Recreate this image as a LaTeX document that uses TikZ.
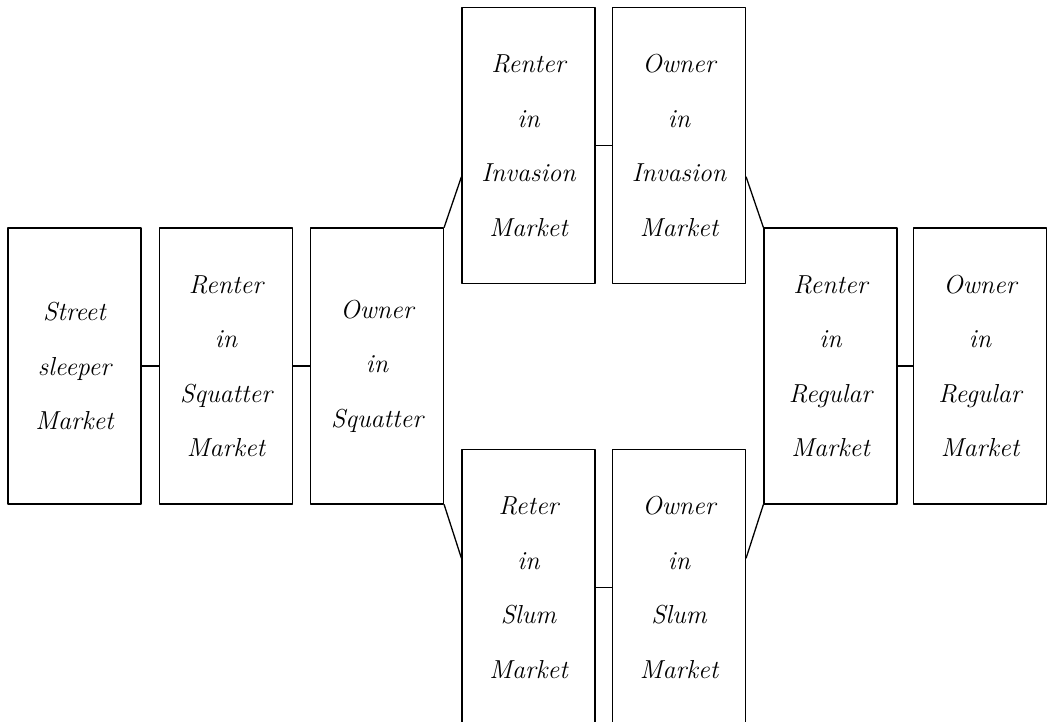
\documentclass[tikz,border=0pt]{standalone}
\usetikzlibrary{positioning}
\begin{document}
\begin{tikzpicture}[x=1pt,y=-1pt,line cap=round,line join=round]
\useasboundingbox (0,0) rectangle (1047,721);
\tikzset{market/.style={draw=black,line width=1.3pt,minimum width=133pt,minimum height=276pt,inner sep=0pt,align=center,font=\fontsize{26}{54.5}\selectfont\itshape},link/.style={draw=black,line width=1.3pt}}
\node[market] (street) at (74.5,366) {Street\\sleeper\\Market};
\node[market] (rsq) at (226,366) {Renter\\in\\Squatter\\Market};
\node[market] (osq) at (377,366) {Owner\\in\\Squatter};
\node[market] (rinv) at (528.5,145.5) {Renter\\in\\Invasion\\Market};
\node[market] (oinv) at (679,145.5) {Owner\\in\\Invasion\\Market};
\node[market] (rslum) at (528.5,587.5) {Reter\\in\\Slum\\Market};
\node[market] (oslum) at (679,587.5) {Owner\\in\\Slum\\Market};
\node[market] (rreg) at (830.5,366) {Renter\\in\\Regular\\Market};
\node[market] (oreg) at (980,366) {Owner\\in\\Regular\\Market};
\draw[link] (street) -- (rsq); \draw[link] (rsq) -- (osq); \draw[link] (rreg) -- (oreg);
\draw[link] (rinv) -- (oinv); \draw[link] (rslum) -- (oslum);
\draw[link] (osq.north east) -- ([yshift=-31.5pt]rinv.west); \draw[link] ([yshift=-31.5pt]oinv.east) -- (rreg.north west);
\draw[link] (osq.south east) -- ([yshift=29.5pt]rslum.west); \draw[link] ([yshift=29.5pt]oslum.east) -- (rreg.south west);
\end{tikzpicture}
\end{document}
